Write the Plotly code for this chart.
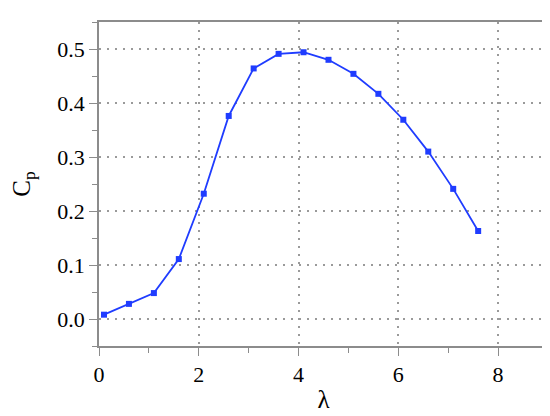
import plotly.graph_objects as go

lam = [0.1, 0.6, 1.1, 1.6, 2.1, 2.6, 3.1, 3.6, 4.1, 4.6, 5.1, 5.6, 6.1, 6.6, 7.1, 7.6]
cp = [0.008, 0.028, 0.048, 0.111, 0.232, 0.376, 0.464, 0.491, 0.494, 0.480,
      0.454, 0.417, 0.369, 0.310, 0.241, 0.163]

x_ticks = [0, 2, 4, 6, 8]
y_ticks = [0.0, 0.1, 0.2, 0.3, 0.4, 0.5]

FAM = "Liberation Serif"

fig = go.Figure()
fig.add_trace(go.Scatter(
    x=lam, y=cp, mode="lines+markers",
    line=dict(color="#1f3cff", width=1.8),
    marker=dict(symbol="square", size=6, color="#1f3cff"),
    showlegend=False,
))

axis_common = dict(
    showline=True, linecolor="#8c8c8c", linewidth=1.5, mirror=True,
    ticks="outside", ticklen=8, tickwidth=1.2, tickcolor="#8c8c8c",
    showgrid=True, gridcolor="#9a9a9a", griddash="2px,6px", gridwidth=1.5,
    zeroline=False,
    tickfont_family=FAM, tickfont_size=22, tickfont_color="black",
)

fig.update_xaxes(
    range=[0, 9], tickvals=x_ticks, ticktext=[str(v) for v in x_ticks],
    minor=dict(dtick=1, ticks="outside", ticklen=5, tickcolor="#8c8c8c", showgrid=False),
    title=dict(text="λ", font=dict(family=FAM, size=25, color="black"), standoff=4),
    **axis_common,
)
fig.update_yaxes(
    range=[-0.05, 0.55], tickvals=y_ticks, ticktext=["%.1f" % v for v in y_ticks],
    minor=dict(dtick=0.05, tick0=0, ticks="outside", ticklen=5, tickcolor="#8c8c8c", showgrid=False),
    title=dict(text="C<sub>p</sub>", font=dict(family=FAM, size=25, color="black"), standoff=20),
    **axis_common,
)

fig.update_layout(
    width=550, height=416,
    font=dict(family=FAM, size=22, color="black"),
    margin=dict(l=91, r=10, t=14, b=78, autoexpand=False),
    plot_bgcolor="white", paper_bgcolor="white",
)

fig.write_html("out.html")
